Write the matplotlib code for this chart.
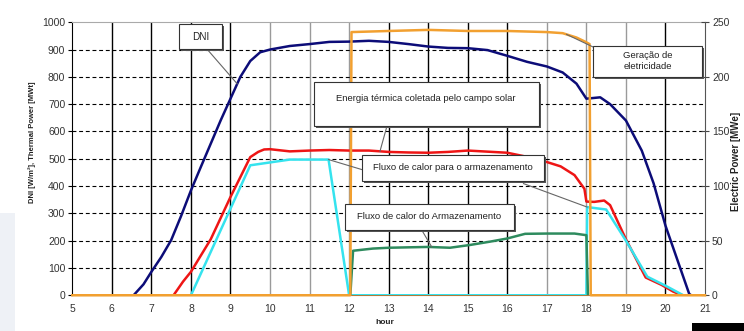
import numpy as np
import matplotlib.pyplot as plt
from matplotlib.patches import Rectangle
from matplotlib.lines import Line2D
from matplotlib.transforms import ScaledTranslation

plt.rcParams['font.family'] = ['Liberation Sans', 'DejaVu Sans']

# DNI [W/m2]
dni_h = [6.55, 6.8, 7.0, 7.25, 7.5, 7.75, 8.0, 8.25, 8.5, 8.75, 9.0, 9.25, 9.5, 9.75,
         10.0, 10.5, 11.0, 11.5, 12.0, 12.5, 13.0, 13.5, 14.0, 14.5, 15.0, 15.5, 16.0,
         16.5, 17.0, 17.4, 17.75, 18.0, 18.35, 18.6, 19.0, 19.4, 19.7, 20.0, 20.3, 20.6, 20.65]
dni = [0, 40, 86, 140, 202, 290, 384, 470, 555, 640, 720, 800, 858, 890,
       900, 913, 920, 928, 929, 932, 928, 920, 911, 906, 905, 898, 877,
       855, 838, 816, 775, 720, 725, 700, 640, 530, 410, 255, 130, 5, 0]

# energia termica coletada [MWt]
col_h = [7.56, 7.8, 8.0, 8.5, 9.0, 9.5, 9.7, 9.85, 10.0, 10.5, 11.0, 11.5, 12.0, 12.5,
         13.0, 13.5, 14.0, 14.5, 15.0, 15.5, 16.0, 16.4, 16.7, 17.0, 17.35, 17.7, 17.95,
         18.0, 18.2, 18.45, 18.6, 19.0, 19.5, 19.9, 20.2, 20.43]
col = [0, 50, 86, 205, 360, 506, 525, 534, 535, 527, 530, 532, 530, 530,
       525, 523, 522, 525, 530, 526, 522, 510, 498, 488, 472, 440, 390,
       343, 342, 347, 330, 205, 65, 38, 13, 0]

# fluxo para o armazenamento [MWt]
to_sto_h = [8.0, 9.5, 10.5, 11.48, 12.0, 18.0, 18.02, 18.5, 19.0, 19.54, 20.0, 20.45]
to_sto = [0, 476, 497, 497, 0, 0, 323, 314, 200, 68, 35, 0]

# fluxo do armazenamento [MWt]
from_sto_h = [12.0, 12.03, 12.1, 12.6, 13.0, 14.0, 14.55, 15.05, 15.55, 16.0, 16.45, 17.0, 17.7, 18.0, 18.04]
from_sto = [0, 0, 163, 171, 174, 177, 174, 184, 196, 208, 225, 226, 226, 220, 0]

# geracao de eletricidade [MWe]
elec_h = [5.0, 12.03, 12.06, 13.0, 14.0, 15.0, 16.0, 17.0, 17.4, 17.75, 17.98, 18.08, 18.11, 21.0]
elec = [0, 0, 241, 242, 243, 242, 242, 241, 240, 236, 232, 230, 0, 0]

hours = list(range(5, 22))
left_ticks = list(range(0, 1001, 100))
right_ticks = list(range(0, 251, 50))

fig = plt.figure(figsize=(7.44, 3.31), dpi=100)
ax = fig.add_axes([0.0972, 0.108, 0.8504, 0.8248])
ax.set_xlim(5, 21)
ax.set_ylim(0, 1000)

# grid
grid_dark = {6, 7, 8, 9, 13, 14, 15, 16, 20}
for h in hours[1:-1]:
    ax.axvline(h, color='black' if h in grid_dark else '#9a9a9a', lw=1.0, zorder=1)
for v in left_ticks[1:-1]:
    ax.axhline(v, color='black', lw=0.8, ls=(0, (3.5, 2.5)), zorder=1)

ax.plot(dni_h, dni, color='#0c0c78', lw=1.8, zorder=3)
ax.plot(col_h, col, color='#ee1515', lw=1.8, zorder=3)
ax.plot(to_sto_h, to_sto, color='#35e3ee', lw=1.8, zorder=3)
ax.plot(from_sto_h, from_sto, color='#2e8b5e', lw=1.8, zorder=3)

ax.set_xticks(hours)
ax.set_yticks(left_ticks)
ax.tick_params(axis='x', length=0, pad=6, labelsize=7.5, labelcolor='#333333')
ax.tick_params(axis='y', length=3, pad=2, labelsize=7.5, labelcolor='#333333', color='black')
ax.spines['left'].set_color('black')
ax.spines['top'].set_color('#aaaaaa')
ax.spines['bottom'].set_color('#b07a3a')
ax.spines['right'].set_visible(False)

ax2 = ax.twinx()
ax2.set_ylim(0, 250)
ax2.plot(elec_h, elec, color='#f2a030', lw=1.8, zorder=4, clip_on=False)
ax2.set_yticks(right_ticks)
ax2.tick_params(axis='y', direction='inout', length=6, pad=2, labelsize=7.5,
                labelcolor='#333333', color='#444444')
ax2.spines['right'].set_color('#555555')
ax2.spines['top'].set_visible(False)
ax2.spines['left'].set_visible(False)
ax2.spines['bottom'].set_visible(False)


def box(x0, y0, x1, y1, text, ty=None, fs=6.8):
    # shadow first, then the white box
    sh = Rectangle((x0, y1), x1 - x0, y0 - y1, facecolor='#555555',
                   edgecolor='none', zorder=9)
    sh.set_transform(ax.transData + ScaledTranslation(2 / 100, -2 / 100, fig.dpi_scale_trans))
    ax2.add_patch(sh)
    ax2.add_patch(Rectangle((x0, y1), x1 - x0, y0 - y1, transform=ax.transData,
                            facecolor='white', edgecolor='#333333', lw=0.8, zorder=10))
    ax2.text((x0 + x1) / 2, ty if ty is not None else (y0 + y1) / 2, text,
             transform=ax.transData, ha='center', va='center', fontsize=fs,
             color='#222222', zorder=11, linespacing=1.3)


def callout(x0, y0, x1, y1):
    ax2.add_line(Line2D([x0, x1], [y0, y1], transform=ax.transData,
                        color='#666666', lw=0.8, zorder=8))


callout(8.41, 901, 9.17, np.interp(9.17, dni_h, dni))
box(7.71, 993, 8.78, 902, 'DNI', fs=7.2)

callout(12.95, 616, 12.78, np.interp(12.78, col_h, col))
box(11.10, 780, 16.80, 620, 'Energia térmica coletada pelo campo solar', ty=722)

callout(12.33, 460, 11.48, np.interp(11.48, to_sto_h, to_sto))
callout(16.41, 409, 18.02, np.interp(18.02, to_sto_h, to_sto))
box(12.33, 515, 16.94, 418, 'Fluxo de calor para o armazenamento')

callout(13.84, 238, 14.09, np.interp(14.09, from_sto_h, from_sto))
box(11.89, 336, 16.17, 239, 'Fluxo de calor do Armazenamento')

callout(18.16, 910, 17.5, 4 * np.interp(17.5, elec_h, elec))
box(18.16, 914, 20.93, 801, 'Geração de\neletricidade')

fig.text(32 / 744, 1 - 142 / 331, 'DNI [W/m²], Thermal Power [MWt]', rotation=90,
         ha='center', va='center', fontsize=5.5, fontweight='bold', color='#222222')
fig.text(736 / 744, 1 - 161 / 331, 'Electric Power [MWe]', rotation=90,
         ha='center', va='center', fontsize=7, fontweight='bold', color='#222222')
fig.text(385 / 744, 1 - 323 / 331, 'hour', ha='center', va='center',
         fontsize=6, fontweight='bold', color='#222222')

# page remnants around the chart
fig.patches.append(Rectangle((0, 0), 15 / 744, 118 / 331, transform=fig.transFigure,
                             facecolor='#eef1f6', edgecolor='none', zorder=-1))
fig.patches.append(Rectangle((692 / 744, 0), 52 / 744, 8 / 331, transform=fig.transFigure,
                             facecolor='black', edgecolor='none'))

fig.savefig('out.png', dpi=100)
